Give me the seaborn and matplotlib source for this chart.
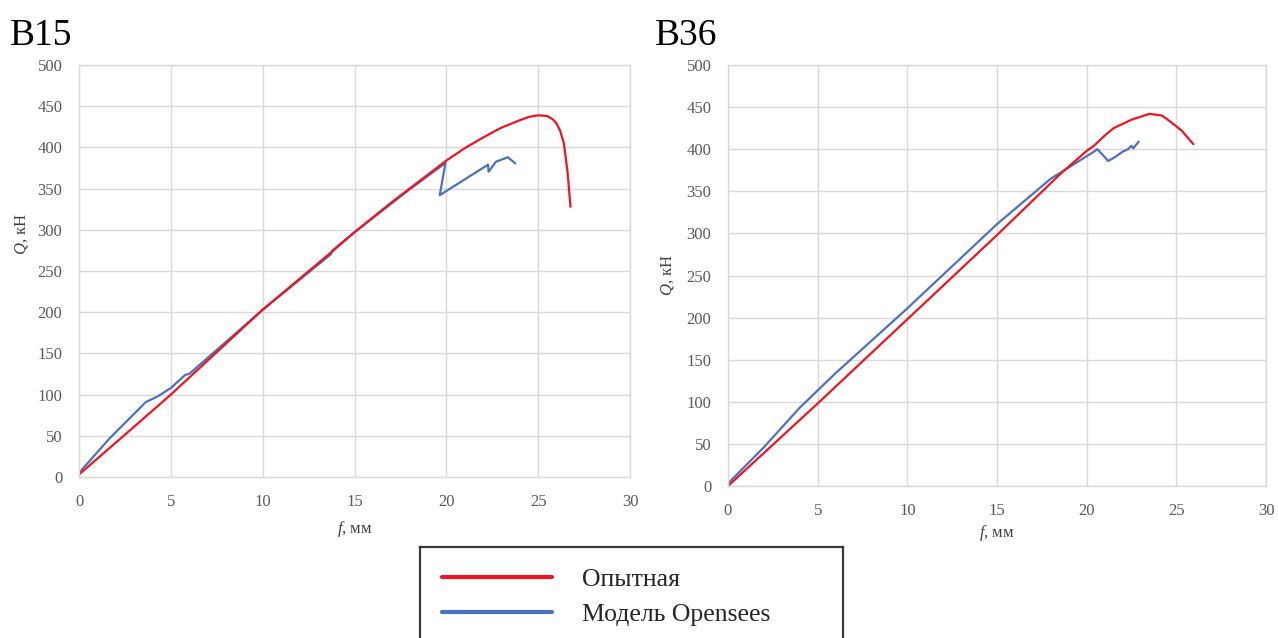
import matplotlib
matplotlib.use("Agg")
import matplotlib.pyplot as plt
import seaborn as sns
import pandas as pd
import numpy as np


panel_titles = ["B15", "B36"]
series_names = ["Опытная", "Модель Opensees"]
series_colors = {"Опытная": "#F0141E", "Модель Opensees": "#4A72C0"}

x_ticks = [0, 5, 10, 15, 20, 25, 30]
y_ticks = [0, 50, 100, 150, 200, 250, 300, 350, 400, 450, 500]

# B15 - test curve (red)
b15_test_f = [0.0, 3.0, 5.0, 10.0, 13.8, 15.0, 16.0, 17.0, 18.0, 19.0, 20.0, 21.0, 22.0, 23.0,
              24.0, 24.5, 25.0, 25.5, 25.8, 26.0, 26.2, 26.4, 26.6, 26.76]
b15_test_q = [3, 61, 100, 203, 274, 297, 315, 333, 350, 367, 384, 399, 412, 424,
              433, 437, 439, 438, 434, 429, 420, 405, 370, 328]
# B15 - OpenSees model (blue)
b15_model_f = [0.0, 1.67, 3.64, 4.26, 5.0, 5.79, 6.0, 10.0, 13.7, 13.8, 15.0, 18.0, 19.95, 19.64,
               22.27, 22.3, 22.7, 23.35, 23.75]
b15_model_q = [5, 47, 91, 97.5, 108, 124, 125, 203, 270, 275, 297, 349, 381, 342,
               379, 370.5, 382.6, 388, 380.7]

# B36 - test curve (red)
b36_test_f = [0.0, 5.0, 10.0, 15.0, 18.5, 20.0, 20.4, 21.0, 21.5, 22.5, 23.5, 24.2, 24.65, 25.3, 25.95]
b36_test_q = [0, 98, 198, 298, 370, 398, 404, 416, 425, 435, 442, 440, 433, 422, 406]
# B36 - OpenSees model (blue)
b36_model_f = [0.0, 2.0, 4.0, 6.0, 10.0, 15.0, 18.0, 20.4, 20.6, 20.9, 21.2, 21.6, 22.0, 22.3, 22.5, 22.6, 22.9]
b36_model_q = [3, 46, 93, 134, 211, 311, 365, 397, 400, 393, 386, 391, 397, 400, 404, 401, 409]


def make_frame(test_f, test_q, model_f, model_q):
    # blue first so the red test curve sits on top, like in the original
    d1 = pd.DataFrame({"f": model_f, "Q": model_q, "series": series_names[1]})
    d2 = pd.DataFrame({"f": test_f, "Q": test_q, "series": series_names[0]})
    return pd.concat([d1, d2], ignore_index=True)


frames = [
    make_frame(b15_test_f, b15_test_q, b15_model_f, b15_model_q),
    make_frame(b36_test_f, b36_test_q, b36_model_f, b36_model_q),
]

sns.set_theme(style="white")
plt.rcParams["font.family"] = ["Liberation Serif", "DejaVu Serif"]
plt.rcParams["mathtext.fontset"] = "custom"
plt.rcParams["mathtext.it"] = "Liberation Serif:italic"
plt.rcParams["mathtext.rm"] = "Liberation Serif"

W, H = 1278, 638
fig = plt.figure(figsize=(W / 100, H / 100), dpi=100)

# axes boxes in pixels: left, top, right, bottom
boxes = [(79, 65, 630, 477), (728, 65, 1266, 486)]
title_x = [10, 655]
ylabel_pos = [(-0.089, 0.59), (-0.097, 0.50)]
xlabel_y = [-0.102, -0.088]

for i, (l, t, r, b) in enumerate(boxes):
    ax = fig.add_axes([l / W, 1 - b / H, (r - l) / W, (b - t) / H])
    sns.lineplot(data=frames[i], x="f", y="Q", hue="series", palette=series_colors,
                 hue_order=[series_names[1], series_names[0]],
                 sort=False, estimator=None, linewidth=1.6, legend=False, ax=ax)
    ax.set_xlim(0, 30)
    ax.set_ylim(0, 500)
    ax.set_xticks(x_ticks)
    ax.set_yticks(y_ticks)
    ax.grid(True, color="#D9D9D9", linewidth=1.0)
    for s in ax.spines.values():
        s.set_color("#D9D9D9")
        s.set_linewidth(1.0)
    ax.tick_params(length=0, pad=12, labelsize=12, labelcolor="#595959")
    ax.set_xlabel(r"$f$, мм", fontsize=12, color="#404040")
    ax.set_ylabel(r"$Q$, кН", fontsize=12, color="#404040")
    ax.yaxis.set_label_coords(*ylabel_pos[i])
    ax.xaxis.set_label_coords(0.5, xlabel_y[i])
    fig.text(title_x[i] / W, 1 - 45 / H, panel_titles[i], fontsize=27, color="black",
             ha="left", va="baseline")

# legend box, cut off at the bottom edge like the original
lh = 1 - 547 / H + 0.06
lax = fig.add_axes([420 / W, -0.06, 423 / W, lh])
lax.set_xticks([])
lax.set_yticks([])
for s in lax.spines.values():
    s.set_color("#3A3A3A")
    s.set_linewidth(1.6)
handles = [plt.Line2D([], [], color=series_colors[n], linewidth=3) for n in series_names]
lax.legend(handles, series_names, loc="upper left",
           bbox_to_anchor=(9 / 423, 1 - 8 / (lh * H)),
           frameon=False, fontsize=18.5, handlelength=4.3, handletextpad=1.15,
           labelspacing=0.49, borderpad=0, labelcolor="#262626")

fig.savefig("out.png", dpi=100, facecolor="white")
